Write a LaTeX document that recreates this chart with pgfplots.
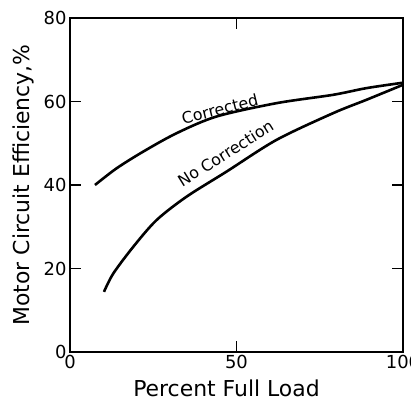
\documentclass[border=0pt]{standalone}
\usepackage{fontspec}
\setmainfont{DejaVu Sans}
\usepackage{pgfplots}
\pgfplotsset{compat=1.18}
\begin{document}
\begin{tikzpicture}
\begin{axis}[
  scale only axis,
  width=333bp, height=334bp,
  xmin=0, xmax=100, ymin=0, ymax=80,
  xtick={0,50,100}, ytick={0,20,40,60,80},
  tick align=inside,
  major tick length=11bp,
  tick style={line width=1.4bp, black},
  axis line style={line width=2bp},
  xtick pos=both, ytick pos=both,
  xticklabel pos=lower, yticklabel pos=left,
  /pgf/number format/assume math mode=true,
  ticklabel style={font=\fontsize{18}{20}\selectfont},
  clip=false,
]
\addplot[line width=2.6bp, smooth, tension=0.5] coordinates {
(7.5,40) (14,44) (22,48) (32,52.4) (44,56.4) (62,59.6) (79,61.6) (89,63.2) (100,64.5)
};
\addplot[line width=2.6bp, smooth, tension=0.5] coordinates {
(10.2,14.4) (13,18.8) (19,25.2) (26,31.6) (35,37.2) (47,43.2) (62,50.8) (79,57.2) (89,60.4) (100,64)
};
\node[rotate=14, inner sep=0pt, font=\fontsize{16}{18}\selectfont] at (axis cs:45,58.2) {Corrected};
\node[rotate=32, inner sep=0pt, font=\fontsize{16}{18}\selectfont] at (axis cs:46.7,47.6) {No Correction};
\coordinate (ll) at (rel axis cs:0,0);
\coordinate (ur) at (rel axis cs:1,1);
\coordinate (ymid) at (rel axis cs:0,0.5);
\coordinate (xmid) at (rel axis cs:0.47,0);
\end{axis}
\node[rotate=90, font=\fontsize{22}{24}\selectfont] at ([xshift=-47bp]ymid) {Motor Circuit Efficiency,\%};
\node[font=\fontsize{22}{24}\selectfont] at ([yshift=-36bp]xmid) {Percent Full Load};
\pgfresetboundingbox
\path ([xshift=-70bp,yshift=-58bp]ll) rectangle ([xshift=8bp,yshift=18bp]ur);
\end{tikzpicture}
\end{document}
